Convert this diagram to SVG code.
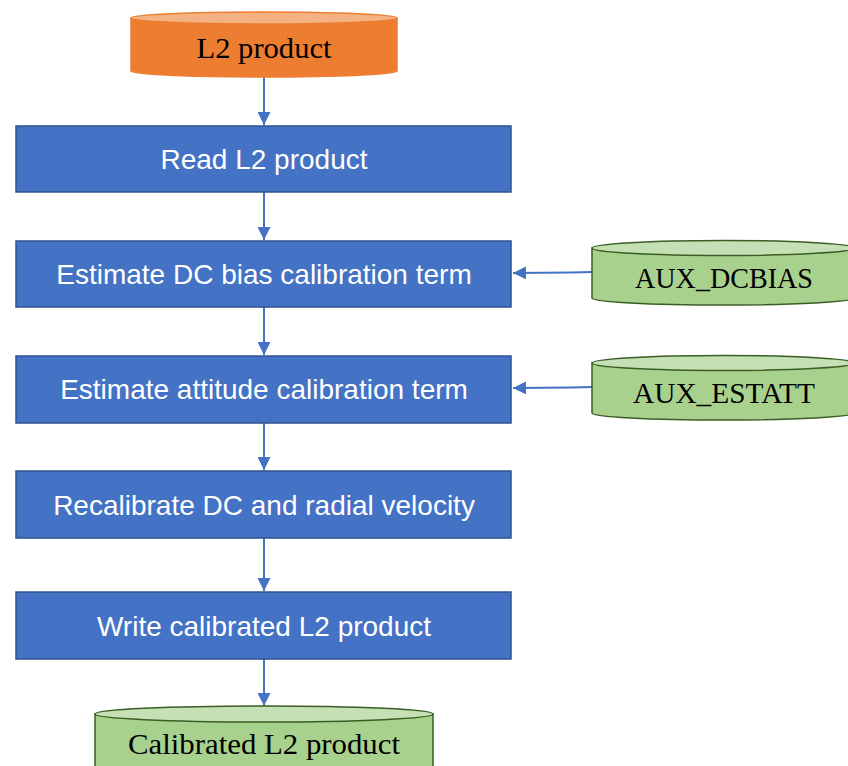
<svg xmlns="http://www.w3.org/2000/svg" width="848" height="766" viewBox="0 0 848 766">
<defs>
<style>
.box{fill:#4472C4;stroke:#2F528F;stroke-width:1.5}
.bt{font-family:"Liberation Sans",Arial,sans-serif;font-size:28px;fill:#fff;text-anchor:middle}
.ct{font-family:"Liberation Serif","Times New Roman",serif;font-size:29px;fill:#000;text-anchor:middle}
.or{fill:#ED7D31;stroke:#ED7D31;stroke-width:1.5}
.ortop{fill:#F4B183;stroke:#ED7D31;stroke-width:1.5}
.gr{fill:#A9D18E;stroke:#3B5E24;stroke-width:1.5}
.grtop{fill:#C5E0B4;stroke:#3B5E24;stroke-width:1.5}
.con{stroke:#4472C4;stroke-width:2;fill:none;marker-end:url(#ah)}
</style>
<marker id="ah" viewBox="0 0 10 10" refX="10" refY="5" markerWidth="6.5" markerHeight="6.5" markerUnits="strokeWidth" orient="auto">
<path d="M0,0 L10,5 L0,10 z" fill="#4472C4"/>
</marker>
</defs>
<g id="connectors">
<line class="con" x1="264" y1="77" x2="264" y2="125"/>
<line class="con" x1="264" y1="192" x2="264" y2="240"/>
<line class="con" x1="264" y1="307" x2="264" y2="355"/>
<line class="con" x1="264" y1="423" x2="264" y2="470"/>
<line class="con" x1="264" y1="538" x2="264" y2="591"/>
<line class="con" x1="264" y1="659" x2="264" y2="706"/>
<path class="con" d="M592,272 L572,272.5 L513,273"/>
<path class="con" d="M592,387 L572,387.5 L513,388"/>
</g>
<g id="l2product">
<path class="or" d="M131,18 L131,71 A133,6 0 0 0 397,71 L397,18 Z"/>
<ellipse class="ortop" cx="264" cy="18" rx="133" ry="6"/>
<text class="ct" x="264" y="58" textLength="135" lengthAdjust="spacingAndGlyphs">L2 product</text>
</g>
<g id="read">
<rect class="box" x="16" y="126" width="495" height="66"/>
<text class="bt" x="264" y="169">Read L2 product</text>
</g>
<g id="dcbias">
<rect class="box" x="16" y="241" width="495" height="66"/>
<text class="bt" x="264" y="284">Estimate DC bias calibration term</text>
</g>
<g id="attitude">
<rect class="box" x="16" y="356" width="495" height="67"/>
<text class="bt" x="264" y="399">Estimate attitude calibration term</text>
</g>
<g id="recal">
<rect class="box" x="16" y="471" width="495" height="67"/>
<text class="bt" x="264" y="515">Recalibrate DC and radial velocity</text>
</g>
<g id="write">
<rect class="box" x="16" y="592" width="495" height="67"/>
<text class="bt" x="264" y="636">Write calibrated L2 product</text>
</g>
<g id="auxdcbias">
<path class="gr" d="M592,248 L592,298 A131,7 0 0 0 854,298 L854,248 Z"/>
<ellipse class="grtop" cx="723" cy="248" rx="131" ry="7.5"/>
<text class="ct" x="724" y="288" textLength="178" lengthAdjust="spacingAndGlyphs">AUX_DCBIAS</text>
</g>
<g id="auxestatt">
<path class="gr" d="M592,363 L592,413 A131,7 0 0 0 854,413 L854,363 Z"/>
<ellipse class="grtop" cx="723" cy="363" rx="131" ry="7.5"/>
<text class="ct" x="724" y="403" textLength="182" lengthAdjust="spacingAndGlyphs">AUX_ESTATT</text>
</g>
<g id="calibrated">
<path class="gr" d="M95,714 L95,780 L433,780 L433,714 Z"/>
<ellipse class="grtop" cx="264" cy="714" rx="169" ry="8"/>
<text class="ct" x="264" y="754" textLength="272" lengthAdjust="spacingAndGlyphs">Calibrated L2 product</text>
</g>
</svg>
